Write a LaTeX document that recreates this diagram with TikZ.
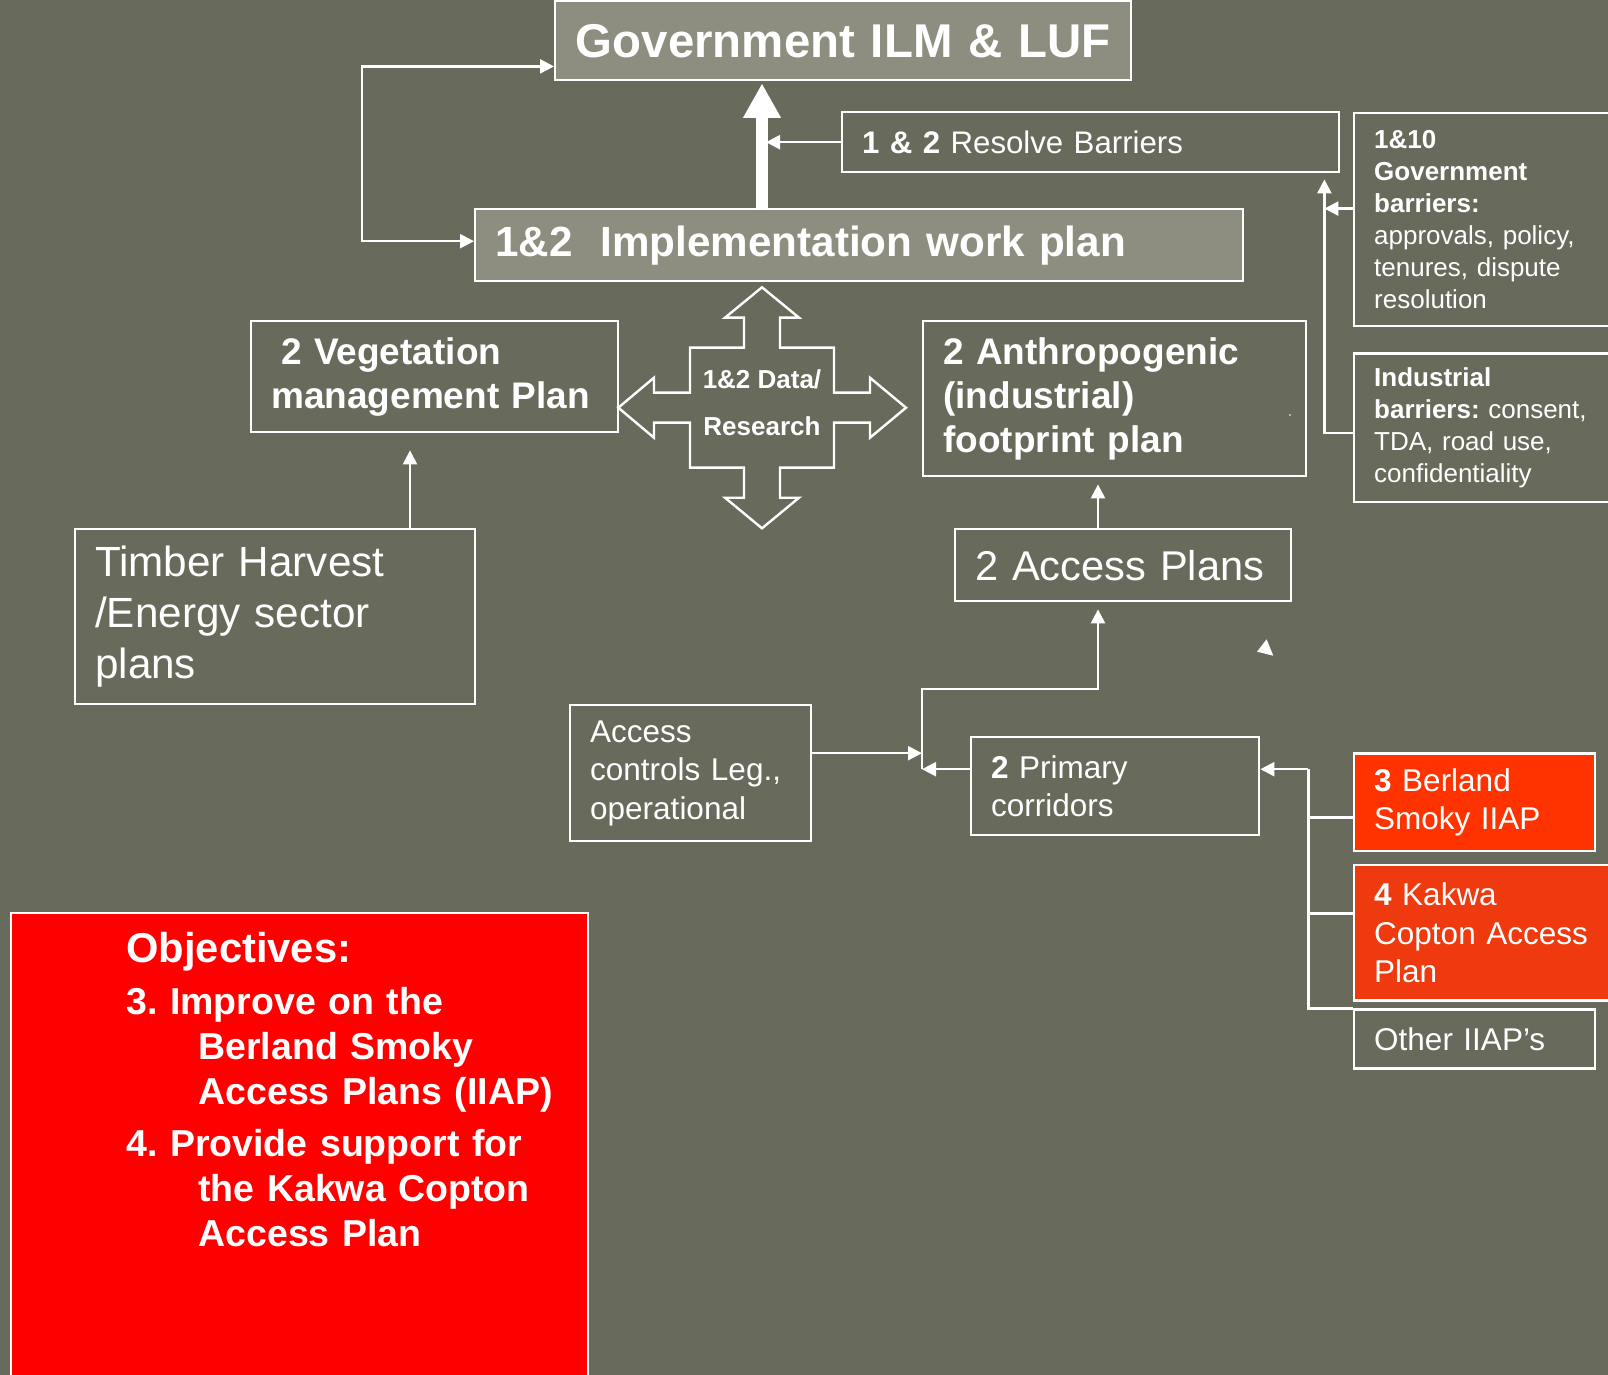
\documentclass[tikz,border=0pt]{standalone}
\usepackage{fontspec}
\setmainfont{Liberation Sans}
\usetikzlibrary{arrows.meta,calc}
\definecolor{olivebg}{HTML}{686A5C}
\definecolor{headfill}{HTML}{8E8E80}
\definecolor{berlandred}{HTML}{FF3300}
\definecolor{kakwared}{HTML}{EE3A0E}
\definecolor{objred}{HTML}{FF0000}
\frenchspacing
\begin{document}
\begin{tikzpicture}
[   x=0.5pt,y=-0.5pt,
    box/.style={draw=white,line width=1.2pt,text=white,anchor=north west,align=left,inner xsep=10pt,inner ysep=0pt},
    arr/.style={draw=white,line width=1.2pt,-{Triangle[length=7pt,width=7pt]}},
    arrboth/.style={draw=white,line width=1.2pt,{Triangle[length=7pt,width=7pt]}-{Triangle[length=7pt,width=7pt]}},
    bigarr/.style={draw=white,line width=5.75pt,-{Triangle[length=17.3pt,width=17.8pt]}},
    link/.style={draw=white,line width=1.2pt},
]
    \useasboundingbox (0,0) rectangle (1608,1375);
    \fill[olivebg] (0,0) rectangle (1608,1375);
    \node[box,fill=headfill,align=center,inner xsep=5pt,minimum width=288pt,minimum height=39.5pt,text width=278pt,
        font=\fontsize{23.7}{28}\selectfont\bfseries] (gov) at (554,0) {Government ILM \& LUF};
    \node[box,fill=headfill,minimum width=384pt,minimum height=36pt,text width=364pt,
        font=\fontsize{21.1}{25}\selectfont\bfseries] (impl) at (474,208) {1\&2\ \ Implementation work plan};
    \node[box,minimum width=248.5pt,minimum height=30pt,text width=228.5pt,
        font=\fontsize{15.6}{19}\selectfont] (res) at (841,111) {\textbf{1 \& 2} Resolve Barriers};
    \node[box,minimum width=133.5pt,minimum height=106.7pt,text width=113.5pt,
        font=\fontsize{13}{16}\selectfont] (govbar) at (1353,111.7)
        {\textbf{1\&10}\\\textbf{Government}\\\textbf{barriers:}\\approvals, policy,\\tenures, dispute\\resolution};
    \node[box,minimum width=133.5pt,minimum height=74.3pt,text width=113.5pt,
        font=\fontsize{13}{16}\selectfont] (indbar) at (1353,352.3)
        {\textbf{Industrial}\\\mbox{\textbf{barriers:} consent,}\\TDA, road use,\\confidentiality};
    \node[box,minimum width=183.5pt,minimum height=55.5pt,text width=163.5pt,
        font=\fontsize{18.5}{22}\selectfont\bfseries] (veg) at (250,320)
        {\hspace*{5pt}2 Vegetation\\\mbox{management Plan}};
    \node[box,minimum width=191.5pt,minimum height=77.5pt,text width=171.5pt,
        font=\fontsize{18.5}{22}\selectfont\bfseries] (anthro) at (922,320)
        {2 Anthropogenic\\(industrial)\\footprint plan};
    \node[box,minimum width=200pt,minimum height=87.5pt,text width=180pt,
        font=\fontsize{21.1}{25.5}\selectfont] (timber) at (74,528)
        {Timber Harvest\\/Energy sector\\plans};
    \node[box,minimum width=168pt,minimum height=36pt,text width=148pt,
        font=\fontsize{20.8}{25.5}\selectfont] (access) at (954,528) {\mbox{2 Access Plans}};
    \node[box,minimum width=120.5pt,minimum height=68pt,text width=100.5pt,
        font=\fontsize{15.75}{19.25}\selectfont] (ctrl) at (569,704)
        {Access\\\mbox{controls Leg.,}\\operational};
    \node[box,minimum width=144pt,minimum height=49pt,text width=124pt,
        font=\fontsize{15.75}{19.25}\selectfont] (corr) at (970,736) {\textbf{2} Primary\\corridors};
    \node[box,fill=berlandred,minimum width=120.5pt,minimum height=48.8pt,text width=100.5pt,
        font=\fontsize{15.75}{19.25}\selectfont] (berland) at (1353,752.3) {\textbf{3} Berland\\Smoky IIAP};
    \node[box,fill=kakwared,minimum width=133.5pt,minimum height=67.7pt,text width=113.5pt,
        font=\fontsize{15.75}{19.25}\selectfont] (kakwa) at (1353,864) {\textbf{4} Kakwa\\Copton Access\\Plan};
    \node[box,minimum width=120.5pt,minimum height=29.5pt,text width=100.5pt,
        font=\fontsize{15.75}{19.25}\selectfont] (other) at (1353,1008.3) {Other IIAP’s};
    \node[box,fill=objred,minimum width=288.5pt,minimum height=250pt] (obj) at (10,912) {};
    \node[anchor=north west,inner sep=0pt,text=white,align=left,text width=220pt,
        font=\fontsize{18.75}{22.5}\selectfont\bfseries] (goals) at (126,932)
        {{\fontsize{20.85}{26}\selectfont Objectives:}\\[3.65pt]
         3. Improve on the\\
         \hspace*{36pt}Berland Smoky\\
         \hspace*{36pt}Access Plans (IIAP)\\[3.35pt]
         4. Provide support for\\
         \hspace*{36pt}the Kakwa Copton\\
         \hspace*{36pt}Access Plan};
    \coordinate (hub) at (762,407.7);
    \draw[link,shift={(hub)}] (0,-120.4) -- (37,-90) -- (18,-90) -- (18,-60) -- (72,-60) -- (72,-15)
        -- (108,-15) -- (108,-30) -- (144,0) -- (108,30) -- (108,15) -- (72,15) -- (72,60) -- (18,60)
        -- (18,90) -- (37,90) -- (0,120.6) -- (-37,90) -- (-18,90) -- (-18,60) -- (-72,60) -- (-72,15)
        -- (-108,15) -- (-108,30) -- (-143.7,0) -- (-108,-30) -- (-108,-15) -- (-72,-15) -- (-72,-60)
        -- (-18,-60) -- (-18,-90) -- (-37,-90) -- cycle;
    \node[text=white,align=center,inner sep=0pt,font=\fontsize{13}{23.7}\selectfont\bfseries] (data)
        at ($(hub)+(0,-5)$) {1\&2 Data/\\Research};
    \coordinate (thk) at ($(impl.north west)+(288,0)$);
    \draw[bigarr,shorten >=1pt] (thk) -- (thk |- gov.south);
    \draw[arr,shorten >=2pt] (res.west) -- (res.west -| thk);
    \draw[arrboth] ($(impl.west)+(0,-4)$) -- ++(-112,0) |- ($(gov.south west)+(0,-15)$);
    \draw[arr,shorten >=8.5pt] ($(timber.north west)+(336,0)$) coordinate (t1) -- (t1 |- veg.south);
    \draw[arr,shorten >=3.5pt] ($(access.north west)+(144,0)$) coordinate (a1) -- (a1 |- anthro.south);
    \coordinate (jn) at ($(corr.west)+(-48,-17)$);
    \draw[arr] ($(corr.west)+(0,-17)$) -- (jn);
    \draw[arr,shorten >=3.5pt] (jn) -- ++(0,-80) -| ($(access.south west)+(144,0)$);
    \draw[arr] ($(ctrl.east)+(0,-20)$) coordinate (c1) -- (c1 -| jn);
    \coordinate (bus) at ($(corr.east)+(48,-17)$);
    \draw[arr] (bus) -- (bus -| corr.east);
    \draw[link] (bus) |- (other.north west);
    \foreach \nm/\dy in {berland/15,kakwa/-19.5}
    {   \draw[link] ($(\nm.west)+(0,\dy)$) coordinate (b) -- (b -| bus);
    }
    \coordinate (bar) at ($(res.south east)+(-16,0)$);
    \draw[arr,shorten >=3pt] ($(indbar.west)+(0,5)$) -| (bar);
    \draw[arr] ($(govbar.west)+(0,-11)$) coordinate (g1) -- (g1 -| bar);
    \fill[white] (1266.6,639.3) -- (1257,651.7) -- (1273.3,655.7) -- cycle;
    \fill[white] (1290,415) circle (0.8);
\end{tikzpicture}
\end{document}
